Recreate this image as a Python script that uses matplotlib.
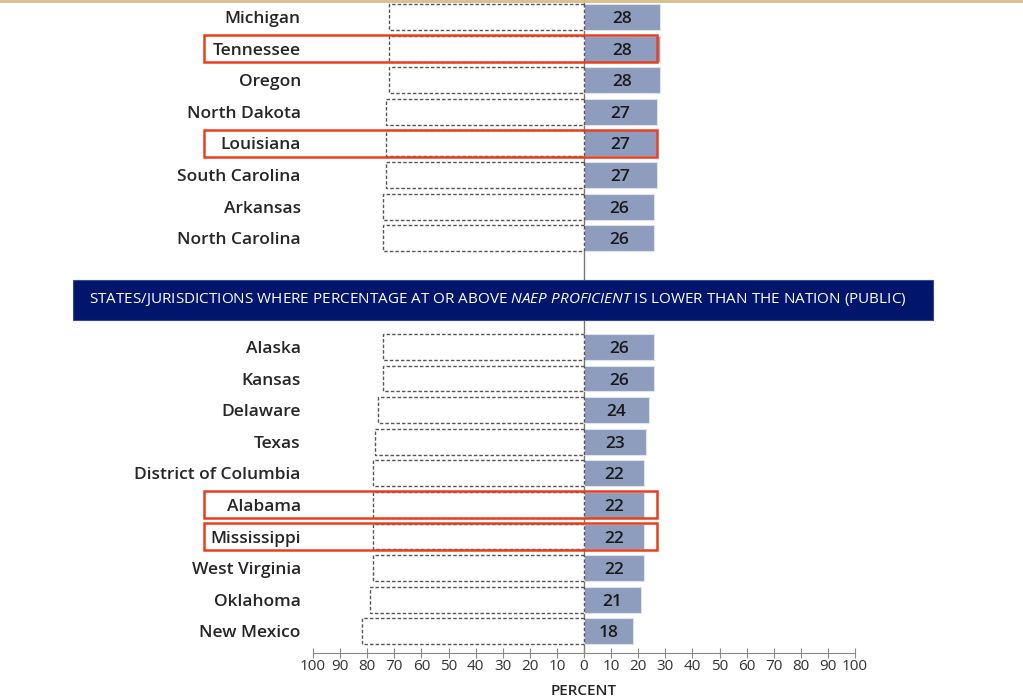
import matplotlib.pyplot as plt
from matplotlib.patches import Rectangle

plt.rcParams['font.family'] = ['Open Sans', 'DejaVu Sans']
plt.rcParams['mathtext.fontset'] = 'custom'
plt.rcParams['mathtext.rm'] = 'Open Sans'
plt.rcParams['mathtext.it'] = 'Open Sans:italic'

# states where proficient share is not significantly different / lower than nation
top_states = ['Michigan', 'Tennessee', 'Oregon', 'North Dakota', 'Louisiana',
              'South Carolina', 'Arkansas', 'North Carolina']
top_values = [28, 28, 28, 27, 27, 27, 26, 26]

low_states = ['Alaska', 'Kansas', 'Delaware', 'Texas', 'District of Columbia',
              'Alabama', 'Mississippi', 'West Virginia', 'Oklahoma', 'New Mexico']
low_values = [26, 26, 24, 23, 22, 22, 22, 22, 21, 18]

highlighted = ['Tennessee', 'Louisiana', 'Alabama', 'Mississippi']

banner_text = ('STATES/JURISDICTIONS WHERE PERCENTAGE AT OR ABOVE $\\it{NAEP\\ PROFICIENT}$'
               ' IS LOWER THAN THE NATION (PUBLIC)')

tick_vals = list(range(-100, 101, 10))

W, H = 1023, 699
fig = plt.figure(figsize=(W / 100, H / 100), dpi=100)
ax = fig.add_axes([313 / W, (H - 653) / H, (855 - 313) / W, 653 / H])

row = 31.6          # pixels per row
gap_offset = 10.44  # second group starts here (in rows)
ax.set_xlim(-100, 100)
ax.set_ylim((653 - 17) / row, -17 / row)

bar_color = '#8e9dbd'
red = '#e8401f'

names = top_states + low_states
vals = top_values + low_values
ys = list(range(len(top_states))) + [gap_offset + i for i in range(len(low_states))]

ax.axvline(0, color='#777777', lw=1, zorder=1)

for name, v, y in zip(names, vals, ys):
    h = 0.82
    ax.barh(y, v, height=h, color=bar_color, edgecolor='#dfe3ec', lw=0.8, zorder=2)
    ax.barh(y, -(100 - v), height=h, color='white', edgecolor='#555555',
            lw=1, linestyle=(0, (2.5, 1.5)), zorder=2)
    ax.text(v / 2, y, str(v), ha='center', va='center_baseline', fontsize=12.5,
            fontweight='semibold', color='#1a1a1a', zorder=3)
    ax.text(-104.5, y, name, ha='right', va='center_baseline', fontsize=12.5,
            fontweight='semibold', color='#262626', clip_on=False)
    if name in highlighted:
        ax.add_patch(Rectangle((-140.3, y - 0.43), 140.3 + 26.8, 0.86, fill=False,
                               edgecolor=red, lw=1.8, clip_on=False, zorder=4))

# banner between the two groups
by0, by1 = 280, 320
ax.add_patch(Rectangle((-100 - (313 - 73) / 2.71, (by0 - 17) / row),
                       (933 - 73) / 2.71, (by1 - by0) / row,
                       facecolor='#00156b', edgecolor='#3a4a8a', lw=0.8,
                       clip_on=False, zorder=5))
ax.text((497.5 - 584) / 2.71, (300 - 17) / row, banner_text, ha='center', va='center',
        fontsize=11.0, color='white', zorder=6, clip_on=False)

for s in ['top', 'left', 'right']:
    ax.spines[s].set_visible(False)
ax.spines['bottom'].set_color('#888888')
ax.set_yticks([])
ax.set_xticks(tick_vals)
ax.set_xticklabels([str(abs(t)) for t in tick_vals], fontsize=11, color='#333333')
ax.tick_params(axis='x', direction='inout', length=7, color='#888888', pad=1)
ax.set_xlabel('PERCENT', fontsize=11, fontweight='semibold', color='#262626', labelpad=7)

# thin tan rule along the top edge
fig.add_artist(plt.Line2D([0, 1], [1 - 1 / H, 1 - 1 / H], color='#d8bd8a', lw=2))

fig.savefig('out.png', dpi=100)
